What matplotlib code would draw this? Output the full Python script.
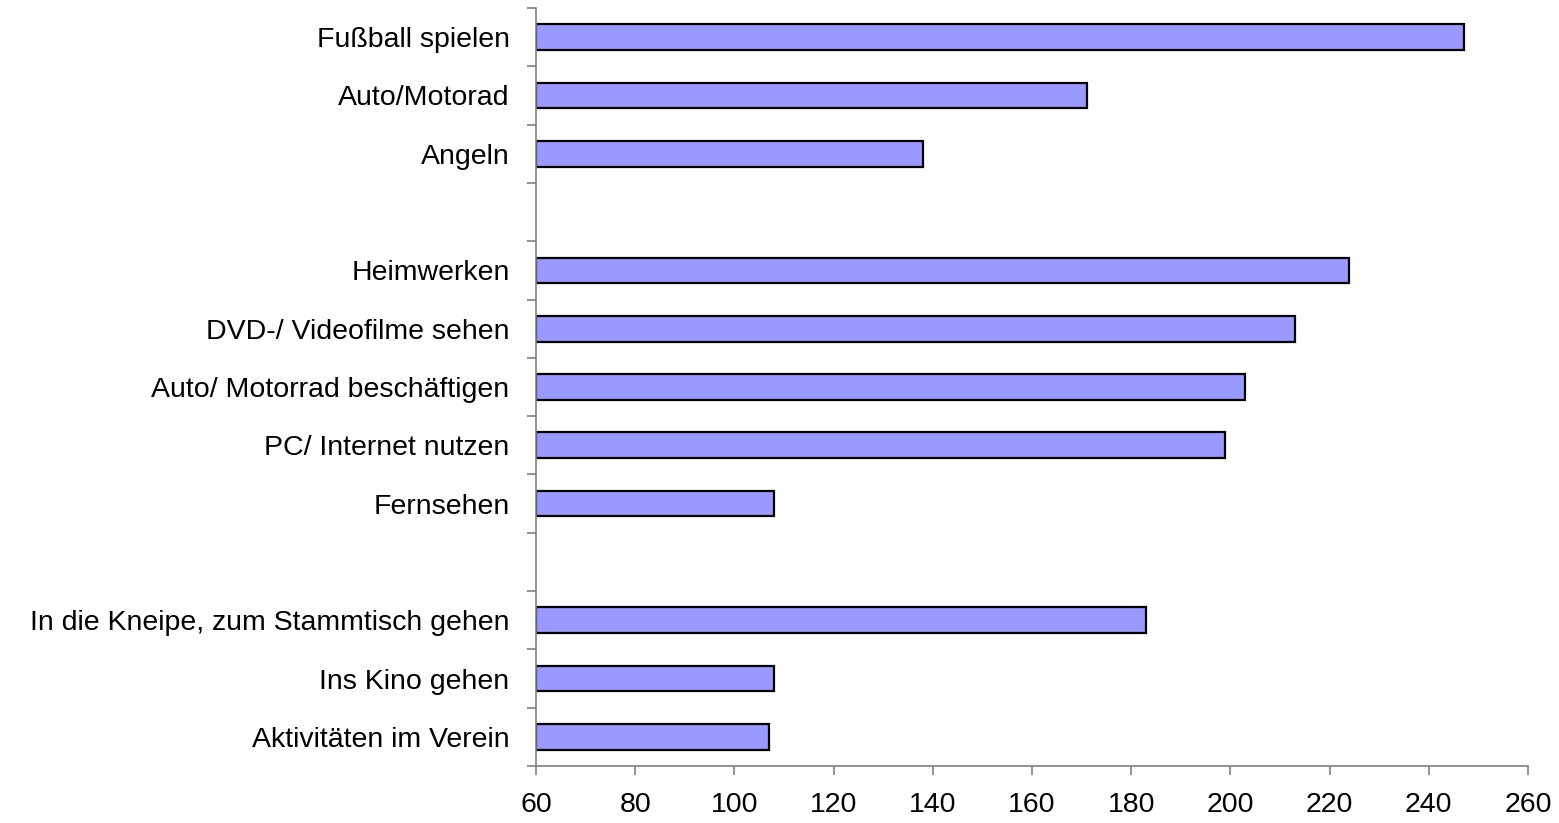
import numpy as np
import matplotlib
matplotlib.use("Agg")
import matplotlib.pyplot as plt

# ── Data (top to bottom, None = empty slot) ──────────────────────────────────
labels = [
    "Fußball spielen",
    "Auto/Motorad",
    "Angeln",
    "",
    "Heimwerken",
    "DVD-/ Videofilme sehen",
    "Auto/ Motorrad beschäftigen",
    "PC/ Internet nutzen",
    "Fernsehen",
    "",
    "In die Kneipe, zum Stammtisch gehen",
    "Ins Kino gehen",
    "Aktivitäten im Verein",
]
values = [247, 171, 138, None, 224, 213, 203, 199, 108, None, 183, 108, 107]
x_ticks = [60, 80, 100, 120, 140, 160, 180, 200, 220, 240, 260]

plt.rcParams["font.family"] = ["Liberation Sans", "DejaVu Sans"]
FS = 20.5

fig = plt.figure(figsize=(15.59, 8.23), dpi=100)
ax = fig.add_axes([536 / 1559, 1 - 766 / 823, (1528 - 536) / 1559, (766 - 8) / 823])

n = len(labels)
pos = np.arange(n)
for p, v in zip(pos, values):
    if v is None:
        continue
    ax.barh(p, v - 60, left=60, height=0.44, color="#9999FF",
            edgecolor="black", linewidth=1.6)

ax.set_xlim(60, 260)
ax.set_ylim(n - 0.5, -0.5)
ax.set_xticks(x_ticks)
ax.set_xticklabels([str(t) for t in x_ticks], fontsize=FS)

ax.set_yticks(pos)
ax.set_yticklabels(labels, fontsize=FS)
ax.set_yticks(np.arange(n + 1) - 0.5, minor=True)
ax.tick_params(axis="y", which="major", length=0, pad=19)
ax.tick_params(axis="y", which="minor", length=6.5, width=1.2, color="#808080", direction="out")
ax.tick_params(axis="x", length=6.5, width=1.2, color="#808080", direction="out", pad=12)

for s in ["top", "right"]:
    ax.spines[s].set_visible(False)
for s in ["left", "bottom"]:
    ax.spines[s].set_color("#808080")
    ax.spines[s].set_linewidth(1.2)

fig.savefig("out.png", dpi=100)
